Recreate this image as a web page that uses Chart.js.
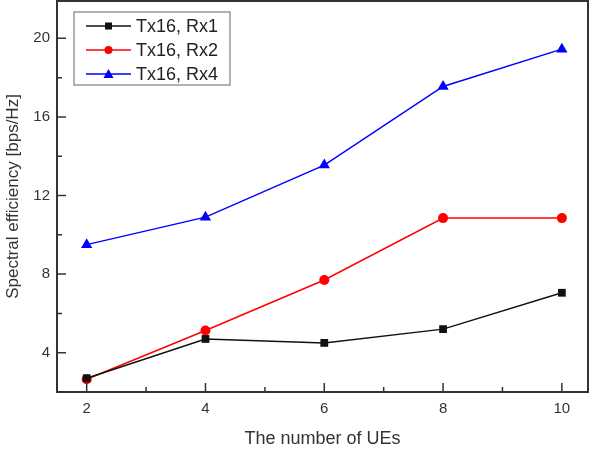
<!DOCTYPE html>
<html>
<head>
<meta charset="utf-8">
<script src="https://cdn.jsdelivr.net/npm/chart.js@4/dist/chart.umd.min.js"></script>
<style>
  html, body { margin: 0; padding: 0; background: #fff; }
  #wrap { width: 593px; height: 453px; }
</style>
</head>
<body>
<div id="wrap"><canvas id="myChart"></canvas></div>
<script>
// number of UEs on the x axis
const ues = [2, 4, 6, 8, 10];
// spectral efficiency [bps/Hz] per configuration
const rx1 = [2.7, 4.7, 4.5, 5.2, 7.05];
const rx2 = [2.65, 5.13, 7.7, 10.85, 10.85];
const rx4 = [9.5, 10.9, 13.55, 17.55, 19.45];
const seriesNames = ["Tx16, Rx1", "Tx16, Rx2", "Tx16, Rx4"];
const xTicks = [2, 4, 6, 8, 10];
const yTicks = [4, 8, 12, 16, 20];
const xMinor = [3, 5, 7, 9];
const yMinor = [6, 10, 14, 18];

const colors = ["#111111", "#ff0000", "#0000ff"];
const styles = ["rect", "circle", "triangle"];

// markers are never at the plot edge, so no extra room is needed for them
Chart.LineController.prototype.getMaxOverflow = function () { return 0; };

function toPoints(vals) {
    return ues.map((u, i) => ({ x: u, y: vals[i] }));
}

// frame, inward ticks and the boxed legend
const framePlugin = {
    id: "frame",
    afterDraw(chart) {
        const ctx = chart.ctx;
        const a = chart.chartArea;
        const xs = chart.scales.x;
        const ys = chart.scales.y;
        ctx.save();
        ctx.strokeStyle = "#333";
        ctx.lineWidth = 2;
        ctx.strokeRect(a.left, a.top, a.right - a.left, a.bottom - a.top);
        ctx.lineWidth = 1.5;
        ctx.beginPath();
        xTicks.forEach(v => {
            const px = xs.getPixelForValue(v);
            ctx.moveTo(px, a.bottom);
            ctx.lineTo(px, a.bottom - 9);
        });
        xMinor.forEach(v => {
            const px = xs.getPixelForValue(v);
            ctx.moveTo(px, a.bottom);
            ctx.lineTo(px, a.bottom - 5);
        });
        yTicks.forEach(v => {
            const py = ys.getPixelForValue(v);
            ctx.moveTo(a.left, py);
            ctx.lineTo(a.left + 9, py);
        });
        yMinor.forEach(v => {
            const py = ys.getPixelForValue(v);
            ctx.moveTo(a.left, py);
            ctx.lineTo(a.left + 5, py);
        });
        ctx.stroke();

        // legend
        ctx.strokeStyle = "#999";
        ctx.lineWidth = 1.5;
        ctx.strokeRect(74, 12, 156, 73);
        ctx.font = "18px 'Liberation Sans', Arial, sans-serif";
        ctx.textBaseline = "middle";
        ctx.textAlign = "left";
        seriesNames.forEach((name, i) => {
            const y = 26 + i * 24;
            ctx.strokeStyle = colors[i];
            ctx.fillStyle = colors[i];
            ctx.lineWidth = 1.5;
            ctx.beginPath();
            ctx.moveTo(86, y);
            ctx.lineTo(131, y);
            ctx.stroke();
            ctx.beginPath();
            if (styles[i] === "rect") {
                ctx.fillRect(105, y - 3.5, 7, 7);
            } else if (styles[i] === "circle") {
                ctx.arc(108.5, y, 4, 0, Math.PI * 2);
                ctx.fill();
            } else {
                ctx.moveTo(108.5, y - 5);
                ctx.lineTo(113.5, y + 4);
                ctx.lineTo(103.5, y + 4);
                ctx.closePath();
                ctx.fill();
            }
            ctx.fillStyle = "#222";
            ctx.fillText(name, 136, y + 1);
        });
        ctx.restore();
    }
};

const datasets = [rx1, rx2, rx4].map((vals, i) => ({
    label: seriesNames[i],
    data: toPoints(vals),
    borderColor: colors[i],
    backgroundColor: colors[i],
    borderWidth: 1.5,
    pointStyle: styles[i],
    pointRadius: i === 0 ? 5.5 : (i === 1 ? 5 : 6.5),
    pointBorderWidth: 0,
    fill: false,
    tension: 0
}));

new Chart(document.getElementById("myChart").getContext("2d"), {
    type: "line",
    data: { datasets: datasets },
    options: {
        responsive: true,
        maintainAspectRatio: false,
        animation: false,
        layout: { padding: { top: 1, right: 5, left: 0, bottom: 0 } },
        plugins: {
            legend: { display: false },
            tooltip: { enabled: false }
        },
        scales: {
            x: {
                type: "linear",
                min: 1.5,
                max: 10.44,
                afterBuildTicks: s => { s.ticks = xTicks.map(v => ({ value: v })); },
                afterFit: s => {
                    s.height = 61;
                    s.paddingLeft = 0;
                    s.paddingRight = 0;
                },
                grid: { display: false, drawTicks: false },
                border: { display: false },
                ticks: {
                    padding: 8,
                    color: "#333",
                    font: { family: "'Liberation Sans', Arial, sans-serif", size: 15 }
                },
                title: {
                    display: true,
                    text: "The number of UEs",
                    color: "#333",
                    padding: { top: 0, bottom: 3 },
                    font: { family: "'Liberation Sans', Arial, sans-serif", size: 18 }
                }
            },
            y: {
                type: "linear",
                min: 2,
                max: 21.9,
                afterBuildTicks: s => { s.ticks = yTicks.map(v => ({ value: v })); },
                afterFit: s => {
                    s.width = 57;
                    s.paddingTop = 0;
                    s.paddingBottom = 0;
                },
                grid: { display: false, drawTicks: false },
                border: { display: false },
                ticks: {
                    padding: 7,
                    color: "#333",
                    font: { family: "'Liberation Sans', Arial, sans-serif", size: 15 }
                },
                title: {
                    display: true,
                    text: "Spectral efficiency [bps/Hz]",
                    color: "#333",
                    padding: { top: 3, bottom: 0 },
                    font: { family: "'Liberation Sans', Arial, sans-serif", size: 17 }
                }
            }
        }
    },
    plugins: [framePlugin]
});
</script>
</body>
</html>
